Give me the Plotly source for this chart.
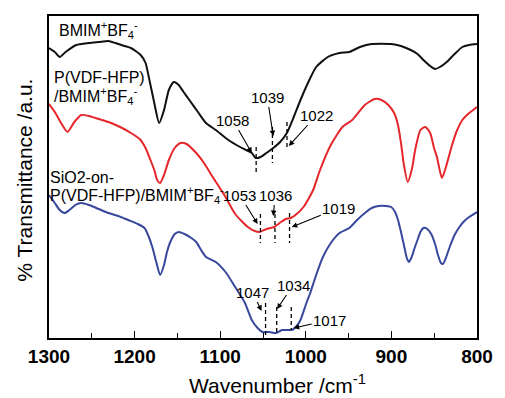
import numpy as np
import plotly.graph_objects as go

# ---------------- data ----------------
# Wavenumber (cm^-1) and transmittance (arbitrary offset units)
wn_bmim = [1300, 1293.2, 1287.5, 1280.6, 1268.1, 1253.3, 1241.9, 1230.5, 1222.6, 1215.7,
           1204.3, 1192.9, 1187.2, 1182.7, 1177, 1171.3, 1165.6, 1160, 1154.2, 1148.5,
           1142.8, 1136, 1126, 1116.6, 1105.2, 1090.4, 1076.8, 1063.1, 1058.5, 1052.8,
           1046, 1038, 1030, 1022.1, 1014.1, 1006.2, 997, 987.9, 974.3, 960.6,
           949.2, 936.7, 923, 900.2, 888.8, 877.4, 869.5, 862.6, 854.7, 849,
           843.3, 835.3, 826.2, 817.1, 809.1, 800]
t_bmim = [290, 286, 281, 286, 293, 295, 296, 297, 295, 293,
          290, 283, 275, 258, 235, 215, 228, 248, 256, 253,
          246, 238, 226, 215, 208, 198, 191, 185, 180, 181,
          185, 190, 196, 205, 221, 238, 256, 271, 281, 285,
          286, 291, 294, 294, 292, 288, 284, 278, 272, 269,
          271, 276, 284, 291, 293, 294]

wn_pvdf = [1300, 1293.2, 1285.2, 1278.4, 1270.4, 1262.4, 1253.3, 1241.9, 1230.5, 1216.9,
           1204.3, 1194.1, 1187.2, 1181.5, 1177, 1173.6, 1170.2, 1165.6, 1160, 1153.1,
           1146.2, 1139.4, 1128, 1118.9, 1108.7, 1093.8, 1082.5, 1067.7, 1059.7, 1054,
           1046, 1036.9, 1029, 1023.2, 1017.5, 1010.7, 1002.7, 991.4, 983.4, 970.8,
           957.2, 945.8, 931, 919.6, 911.6, 903.6, 896.8, 892.3, 888.8, 885.4,
           880.9, 876.3, 871.8, 866.1, 860.4, 854.7, 850.2, 846.8, 841, 836.6,
           829.8, 824.1, 817.1, 809.1, 800]
t_pvdf = [234, 226, 214, 206, 216, 223, 222, 219, 216, 211,
          205, 199, 190, 178, 168, 158, 155, 163, 178, 190,
          195, 194, 185, 175, 161, 141, 124, 111, 107, 106,
          109, 111, 116, 119, 120, 124, 131, 148, 168, 193,
          211, 218, 233, 239, 238, 233, 225, 213, 195, 173,
          156, 168, 190, 208, 211, 205, 190, 181, 160, 170,
          191, 206, 218, 225, 231]

wn_sio2 = [1300, 1293.2, 1287.5, 1281.8, 1276.1, 1269.2, 1262.4, 1253.3, 1241.9, 1230.5,
           1219.1, 1207.7, 1196.4, 1188.4, 1183.8, 1179.3, 1174.7, 1170.2, 1165.6, 1162.2,
           1158.8, 1153.1, 1148.5, 1141.7, 1133.7, 1128, 1122.3, 1116.6, 1105.2, 1093.8,
           1082.5, 1071.1, 1063.1, 1056.3, 1050.6, 1042.6, 1034.6, 1027.8, 1021, 1016.4,
           1010.7, 1006.2, 999.3, 994.8, 987.9, 980, 970.8, 960.6, 949.2, 940.1,
           931, 923, 915, 905.9, 900.2, 895.7, 892.3, 888.8, 885.4, 882,
           879.7, 876.3, 872.9, 869.5, 866.1, 862.6, 858.1, 853.5, 849, 845.6,
           842.1, 839.9, 836.4, 831.9, 826.2, 820.5, 814.8, 809.1, 800]
t_sio2 = [143, 135, 128, 125, 128, 133, 135, 133, 129, 125,
          122, 118, 114, 110, 102, 91, 76, 63, 73, 86,
          95, 104, 106, 104, 100, 96, 88, 81, 76, 66,
          51, 35, 18, 10, 6, 6, 5, 8, 8, 8,
          12, 18, 35, 45, 63, 81, 95, 105, 110, 118,
          125, 130, 132, 132, 131, 126, 118, 106, 93, 80,
          76, 81, 90, 98, 106, 110, 109, 104, 94, 83,
          75, 74, 80, 91, 103, 111, 117, 121, 126]

peaks_bmim = [1058, 1039, 1022]
peaks_pvdf = [1053, 1036, 1019]
peaks_sio2 = [1047, 1034, 1017]

x_ticks = [1300, 1200, 1100, 1000, 900, 800]

# ---------------- layout helpers ----------------
W, H = 505, 398
L, R, T, B = 49, 488, 16, 338
Y0, Y1 = 0, 322


def px2x(px):
    return 1300 - (px - L) * 500.0 / (R - L)


def py2y(py):
    return (B - py) * (Y1 - Y0) / (B - T)


def pxp(px):
    return (px - L) / (R - L)


def pyp(py):
    return (B - py) / (B - T)


BLACK = "#111111"
RED = "#e5262b"
BLUE = "#37489c"
FONT = "Liberation Sans, Arial, sans-serif"

fig = go.Figure()
for wn, t, col in [(wn_bmim, t_bmim, BLACK), (wn_pvdf, t_pvdf, RED), (wn_sio2, t_sio2, BLUE)]:
    fig.add_trace(go.Scatter(x=wn, y=t, mode="lines",
                             line=dict(color=col, width=2, shape="spline", smoothing=0.6),
                             showlegend=False, hoverinfo="skip"))

# dashed markers at the peak positions: (top px, bottom px) per peak
dash_spans = {
    "bmim": [(147, 173), (127, 163), (122, 150)],
    "pvdf": [(214, 243), (214, 243), (213, 243)],
    "sio2": [(303, 335), (307, 335), (307, 330)],
}
# label centre (px) and arrow tip (px)
label_geo = {
    "bmim": [((238, 120), (257, 153)), ((273, 97), (279, 136)), ((323, 115), (295, 146))],
    "pvdf": [((245, 195), (263, 224)), ((281, 195), (279, 216)), ((345, 208), (298, 227))],
    "sio2": [((258, 292), (267, 311)), ((299, 285), (283, 309)), ((336, 320), (300, 328))],
}
peaks = {"bmim": peaks_bmim, "pvdf": peaks_pvdf, "sio2": peaks_sio2}

for key in ["bmim", "pvdf", "sio2"]:
    for pk, (ytop, ybot), ((lx, ly), (tx, ty)) in zip(peaks[key], dash_spans[key], label_geo[key]):
        fig.add_shape(type="line", xref="x", yref="y", x0=pk, x1=pk,
                      y0=py2y(ytop), y1=py2y(ybot),
                      line=dict(color="black", width=1.3, dash="4px,3px"))
        fig.add_annotation(x=px2x(tx), y=py2y(ty), xref="x", yref="y",
                           ax=lx - tx, ay=ly - ty, axref="pixel", ayref="pixel",
                           text=str(pk), showarrow=True, arrowhead=2, arrowsize=1,
                           arrowwidth=1.1, arrowcolor="black", standoff=0,
                           font=dict(family=FONT, size=15, color="black"))

# series labels
series_labels = [
    ("BMIM<sup>+</sup>BF<sub>4</sub><sup>-</sup>", 57, 30),
    ("P(VDF-HFP)", 52, 77),
    ("/BMIM<sup>+</sup>BF<sub>4</sub><sup>-</sup>", 52, 96),
    ("SiO2-on-", 48, 177),
    ("P(VDF-HFP)/BMIM<sup>+</sup>BF<sub>4</sub><sup>-</sup>", 48, 195),
]
for txt, x, y in series_labels:
    fig.add_annotation(x=pxp(x), y=pyp(y), xref="paper", yref="paper",
                       text=txt, showarrow=False, xanchor="left", yanchor="middle",
                       font=dict(family=FONT, size=16, color="black"))

# axis titles
fig.add_annotation(x=pxp(283), y=pyp(384), xref="paper", yref="paper",
                   text="Wavenumber /cm<sup>-1</sup>", showarrow=False,
                   xanchor="center", yanchor="middle",
                   font=dict(family=FONT, size=21, color="black"))
fig.add_annotation(x=pxp(23), y=pyp(180), xref="paper", yref="paper",
                   text="% Transmittance /a.u.", showarrow=False, textangle=-90,
                   xanchor="center", yanchor="middle",
                   font=dict(family=FONT, size=21, color="black"))

fig.update_layout(
    width=W, height=H,
    margin=dict(l=L, r=W - R, t=T, b=H - B),
    paper_bgcolor="white", plot_bgcolor="white",
    xaxis=dict(range=[1300, 800], tickvals=x_ticks, ticktext=[str(v) for v in x_ticks],
               ticks="inside", ticklen=7, tickwidth=1.3, tickcolor="black",
               minor=dict(ticks="inside", dtick=50, tick0=800, ticklen=5, tickwidth=1.3, tickcolor="black"),
               showline=True, linecolor="black", linewidth=1.5, mirror=True,
               showgrid=False, zeroline=False, ticklabelstandoff=0,
               tickfont=dict(family=FONT, size=19, color="black", weight="bold")),
    yaxis=dict(range=[Y0, Y1], showticklabels=False, ticks="",
               showline=True, linecolor="black", linewidth=1.5, mirror=True,
               showgrid=False, zeroline=False),
)

fig.write_html("out.html", config={"displayModeBar": False},
               post_script="document.body.style.margin='0';document.body.style.padding='0';")
